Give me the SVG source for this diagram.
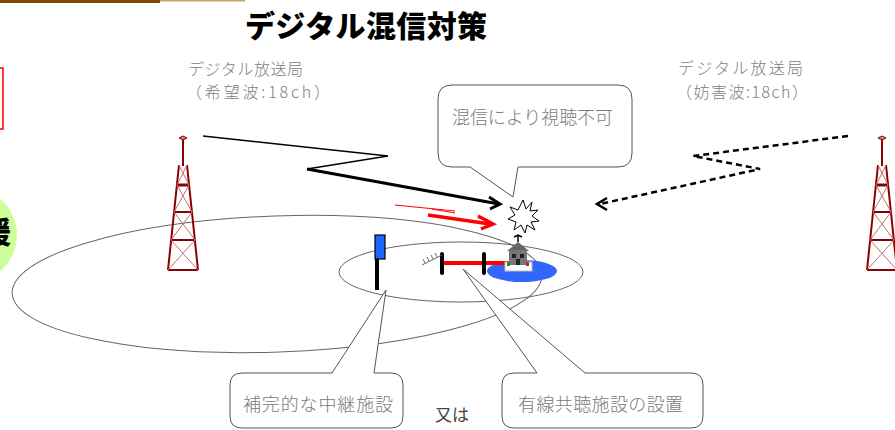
<svg xmlns="http://www.w3.org/2000/svg" width="895" height="430" viewBox="0 0 895 430">
  <style>
    .jp { font-family: "Noto Sans CJK JP", "Noto Sans", sans-serif; }
    .lbl { font-size: 16px; fill: #808080; font-weight: 300; }
    .ctext { font-size: 18px; fill: #7a7a7a; font-weight: 300; }
    .callout { fill: #ffffff; stroke: #555555; stroke-width: 1; }
    .area { fill: none; stroke: #666666; stroke-width: 1; }
    .leg { stroke: #8b0000; stroke-width: 2; fill: none; }
    .brace { stroke: #c07070; stroke-width: 1; fill: none; }
  </style>
  <defs>
    <!-- lattice transmitter tower, origin at the mast axis -->
    <g id="tower">
      <path d="M-4,138 L0,136 L4,138 L0,140 Z" fill="#c88" stroke="#8b0000" stroke-width="1"/>
      <line x1="0" y1="140" x2="0" y2="166" class="leg"/>
      <path d="M-4,165 L-15,270 M4,165 L15,270" class="leg"/>
      <path d="M-6,185 H6" stroke="#8b0000" stroke-width="3"/>
      <path d="M-9,212 H9 M-12,240 H12 M-15,270 H15" class="leg"/>
      <path d="M-4,165 L6,185 M4,165 L-6,185 M-6,185 L9,212 M6,185 L-9,212 M-9,212 L12,240 M9,212 L-12,240 M-12,240 L15,270 M12,240 L-15,270" class="brace"/>
    </g>
  </defs>

  <rect width="895" height="430" fill="#ffffff"/>

  <!-- header rule -->
  <rect x="0" y="0" width="160" height="3" fill="#7a4a00"/>
  <rect x="160" y="0" width="85" height="1.5" fill="#c8a860"/>

  <!-- left margin fragments -->
  <rect x="-5" y="68" width="8" height="61" fill="none" stroke="#ff0000" stroke-width="1.5"/>
  <ellipse cx="-30" cy="235" rx="47" ry="47" fill="#ccff99"/>
  <text x="-19" y="243" class="jp" font-size="30" font-weight="900" fill="#000">援</text>

  <!-- title -->
  <text x="245" y="37" class="jp" font-size="30" font-weight="900" fill="#000" textLength="242">デジタル混信対策</text>

  <!-- station labels -->
  <g id="station-left-label" class="jp lbl">
    <text x="188" y="75" textLength="115">デジタル放送局</text>
    <text x="186" y="98" textLength="144">（希望波:18ch）</text>
  </g>
  <g id="station-right-label" class="jp lbl">
    <text x="678" y="74" textLength="125">デジタル放送局</text>
    <text x="676" y="98" textLength="132">（妨害波:18ch）</text>
  </g>

  <!-- service areas -->
  <g id="areas">
    <ellipse cx="277" cy="284" rx="265" ry="68" transform="rotate(-2 277 284)" class="area"/>
    <ellipse cx="461" cy="272" rx="122" ry="30" class="area" stroke="#888"/>
    <ellipse cx="522" cy="271" rx="35" ry="11" fill="#3366ff"/>
  </g>

  <!-- towers -->
  <g id="tower-left"><use href="#tower" transform="translate(183,0)"/></g>
  <g id="tower-right"><use href="#tower" transform="translate(882,0)"/></g>

  <!-- connectors -->
  <g id="connectors">
    <!-- desired wave -->
    <path d="M203,136 L388,156 L307,169" fill="none" stroke="#000" stroke-width="1.3"/>
    <path d="M307,169 L499,204" fill="none" stroke="#000" stroke-width="3"/>
    <path d="M489,197 L500,204 L490,209" fill="none" stroke="#000" stroke-width="3"/>
    <!-- interfering wave -->
    <path d="M848,136 L693,156 L760,169 L600,204" fill="none" stroke="#000" stroke-width="2.5" stroke-dasharray="6 4"/>
    <path d="M607,198 L597,204 L607,210" fill="none" stroke="#000" stroke-width="2.5"/>
    <!-- reflected red wave -->
    <path d="M395,205 L455,211 M432,209 L455,213" stroke="#ff0000" stroke-width="1" fill="none"/>
    <path d="M428,215 L490,224" stroke="#ff0000" stroke-width="3.5" fill="none"/>
    <path d="M478,216 L493,224 L481,229" stroke="#ff0000" stroke-width="3.5" fill="none"/>
    <!-- cable -->
    <path d="M442,263 L518,263" stroke="#ff0000" stroke-width="4"/>
  </g>

  <!-- interference burst -->
  <g id="burst">
    <path d="M523,200 L526,209 L532,202 L530,211 L538,210 L532,216 L539,221 L531,222 L535,230 L527,225 L525,233 L521,225 L514,230 L516,222 L508,219 L515,215 L510,207 L518,210 Z" fill="#fff" stroke="#000" stroke-width="1"/>
  </g>

  <!-- receiving antennas -->
  <g id="receiver">
    <line x1="442" y1="254" x2="442" y2="273" stroke="#000" stroke-width="4" stroke-linecap="round"/>
    <line x1="484" y1="254" x2="484" y2="273" stroke="#000" stroke-width="4" stroke-linecap="round"/>
    <path d="M422,265 L442,255 M425,263 L423,259 M429,261 L427,257 M433,259 L431,255 M437,257 L435,253" stroke="#666" stroke-width="1" fill="none"/>
  </g>

  <!-- house -->
  <g id="house">
    <rect x="505" y="262" width="27" height="9" fill="#fff" stroke="#bbb" stroke-width="1"/>
    <path d="M507,251 L518,242 L529,251 Z" fill="#666"/>
    <rect x="509" y="250" width="18" height="15" fill="#777"/>
    <rect x="512" y="254" width="4" height="4" fill="#222"/>
    <rect x="520" y="254" width="4" height="4" fill="#222"/>
    <rect x="516" y="259" width="4" height="6" fill="#222"/>
    <rect x="507" y="262" width="3" height="4" fill="#2a8a2a"/>
    <rect x="526" y="262" width="3" height="4" fill="#cc2222"/>
    <path d="M518,242 V236 M514,237 L518,235 L522,237" stroke="#000" stroke-width="1.5" fill="none"/>
  </g>

  <!-- relay station -->
  <g id="relay">
    <line x1="377" y1="258" x2="377" y2="290" stroke="#000" stroke-width="4"/>
    <rect x="375" y="235" width="10" height="24" fill="#1a66ff" stroke="#000" stroke-width="1.2"/>
  </g>

  <!-- callouts -->
  <g id="callout-interference">
    <path d="M452,85 H618 Q632,85 632,99 V153 Q632,167 618,167 H518 L513,197 L470,167 H452 Q438,167 438,153 V99 Q438,85 452,85 Z" class="callout"/>
    <text x="452" y="124" class="jp ctext" textLength="161">混信により視聴不可</text>
  </g>
  <g id="callout-relay">
    <path d="M242,373 H332 L386,290 L374,373 H391 Q403,373 403,385 V416 Q403,428 391,428 H242 Q230,428 230,416 V385 Q230,373 242,373 Z" class="callout"/>
    <text x="243" y="411" class="jp ctext" textLength="150">補完的な中継施設</text>
  </g>
  <g id="callout-cable">
    <path d="M514,373 H537 L463,269 L585,373 H691 Q703,373 703,385 V416 Q703,428 691,428 H514 Q502,428 502,416 V385 Q502,373 514,373 Z" class="callout"/>
    <text x="518" y="411" class="jp ctext" textLength="165">有線共聴施設の設置</text>
  </g>

  <text x="435" y="421" class="jp" font-size="17" fill="#444">又は</text>
</svg>
